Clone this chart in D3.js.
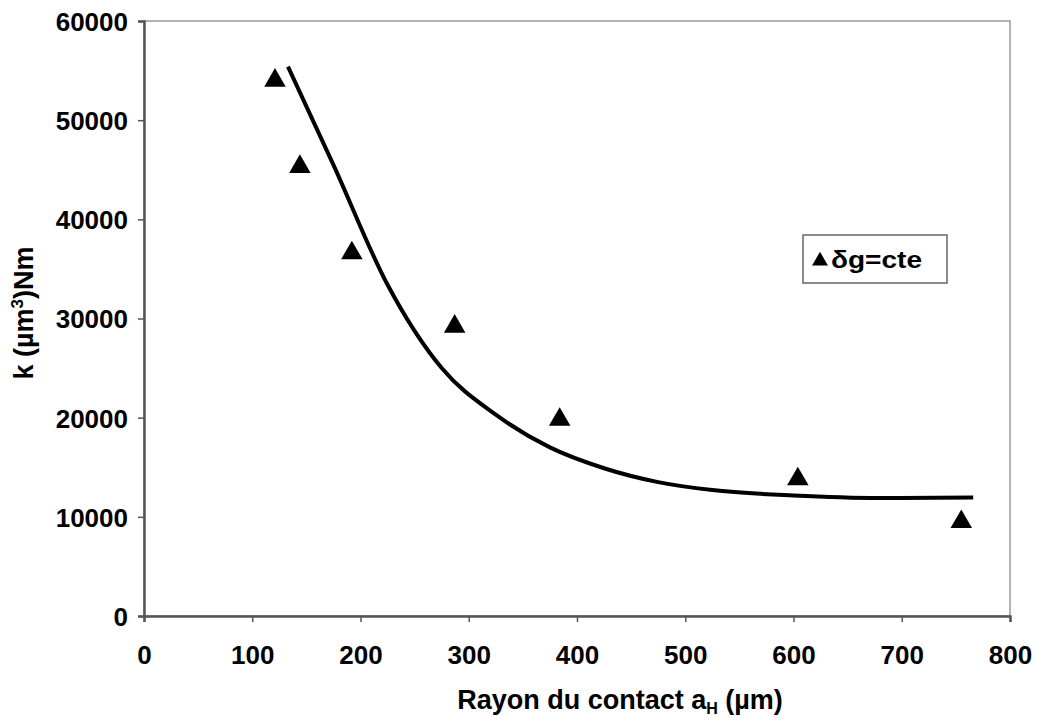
<!DOCTYPE html>
<html lang="en">
<head>
  <title>k vs rayon du contact</title>
  <script src="https://d3js.org/d3.v7.min.js"></script>
  <style>
    body { margin: 0; background: #fff; }
    text { font-family: "Liberation Sans", Arial, sans-serif; font-weight: bold; fill: #000; }
  </style>
</head>
<body>
<div id="chart"></div>
<script>
// measured points (triangles)
const rayon = [121, 144, 192, 287, 384, 604, 755];
const kVals = [54000, 45300, 36600, 29200, 19800, 13800, 9500];

// trend curve
const curveX = [133, 175, 225, 275, 325, 375, 425, 475, 525, 600, 680, 766];
const curveY = [55400, 45500, 33400, 25000, 20300, 17000, 14900, 13500, 12700, 12150, 11900, 11950];

const xTicks = [0, 100, 200, 300, 400, 500, 600, 700, 800];
const yTicks = [0, 10000, 20000, 30000, 40000, 50000, 60000];

const W = 1045, H = 722;
const margin = {top: 21, right: 35, bottom: 106, left: 144};
const width = W - margin.left - margin.right,
      height = H - margin.top - margin.bottom;

const svg = d3.select("#chart").append("svg")
    .attr("width", W)
    .attr("height", H);

const g = svg.append("g")
    .attr("transform", `translate(${margin.left},${margin.top})`);

const x = d3.scaleLinear().domain([0, 800]).range([0, width]);
const y = d3.scaleLinear().domain([0, 60000]).range([height, 0]);

// plot frame (top/right light grey)
g.append("rect")
    .attr("width", width)
    .attr("height", height)
    .attr("fill", "#fff")
    .attr("stroke", "#999")
    .attr("stroke-width", 1.5);

// axes
const xAxis = g.append("g")
    .attr("transform", `translate(0,${height})`)
    .call(d3.axisBottom(x).tickValues(xTicks).tickSize(6).tickPadding(24).tickFormat(d3.format("d")));
const yAxis = g.append("g")
    .call(d3.axisLeft(y).tickValues(yTicks).tickSize(6).tickPadding(10).tickFormat(d3.format("d")));

[xAxis, yAxis].forEach(a => {
  a.select(".domain").attr("stroke", "#555").attr("stroke-width", 2.5);
  a.selectAll(".tick line").attr("stroke", "#555").attr("stroke-width", 1.5);
  a.selectAll(".tick text")
    .style("font-size", "26px")
    .style("font-family", "'Liberation Sans', Arial, sans-serif")
    .style("font-weight", "bold")
    .attr("fill", "#000");
});
yAxis.selectAll(".tick text").attr("dy", "0.36em");

// trend curve
const curveData = curveX.map((d, i) => [d, curveY[i]]);
g.append("path")
    .datum(curveData)
    .attr("fill", "none")
    .attr("stroke", "#000")
    .attr("stroke-width", 4)
    .attr("d", d3.line()
        .x(d => x(d[0]))
        .y(d => y(d[1]))
        .curve(d3.curveMonotoneX));

// triangles
const tri = d3.symbol().type(d3.symbolTriangle).size(200);
g.selectAll(".pt")
    .data(rayon)
    .join("path")
    .attr("class", "pt")
    .attr("transform", (d, i) => `translate(${x(d)},${y(kVals[i])})`)
    .attr("d", tri)
    .attr("fill", "#000");

// legend
const leg = svg.append("g").attr("transform", "translate(803,235)");
leg.append("rect")
    .attr("width", 144)
    .attr("height", 48)
    .attr("fill", "#fff")
    .attr("stroke", "#666")
    .attr("stroke-width", 1.5);
leg.append("path")
    .attr("transform", "translate(17,26)")
    .attr("d", d3.symbol().type(d3.symbolTriangle).size(110))
    .attr("fill", "#000");
leg.append("text")
    .attr("x", 28)
    .attr("y", 33)
    .attr("textLength", 91)
    .attr("lengthAdjust", "spacingAndGlyphs")
    .style("font-size", "24px")
    .text("δg=cte");

// axis titles
const xt = svg.append("text")
    .attr("x", 620)
    .attr("y", 709)
    .attr("text-anchor", "middle")
    .style("font-size", "27px");
xt.append("tspan").text("Rayon du contact a");
xt.append("tspan").attr("dy", 5).style("font-size", "16px").text("H");
xt.append("tspan").attr("dy", -5).text(" (µm)");

const yt = svg.append("text")
    .attr("transform", "translate(33,313) rotate(-90)")
    .attr("text-anchor", "middle")
    .style("font-size", "27px");
yt.append("tspan").text("k (µm");
yt.append("tspan").attr("dy", -10).style("font-size", "17px").text("3");
yt.append("tspan").attr("dy", 10).text(")Nm");
</script>
</body>
</html>
